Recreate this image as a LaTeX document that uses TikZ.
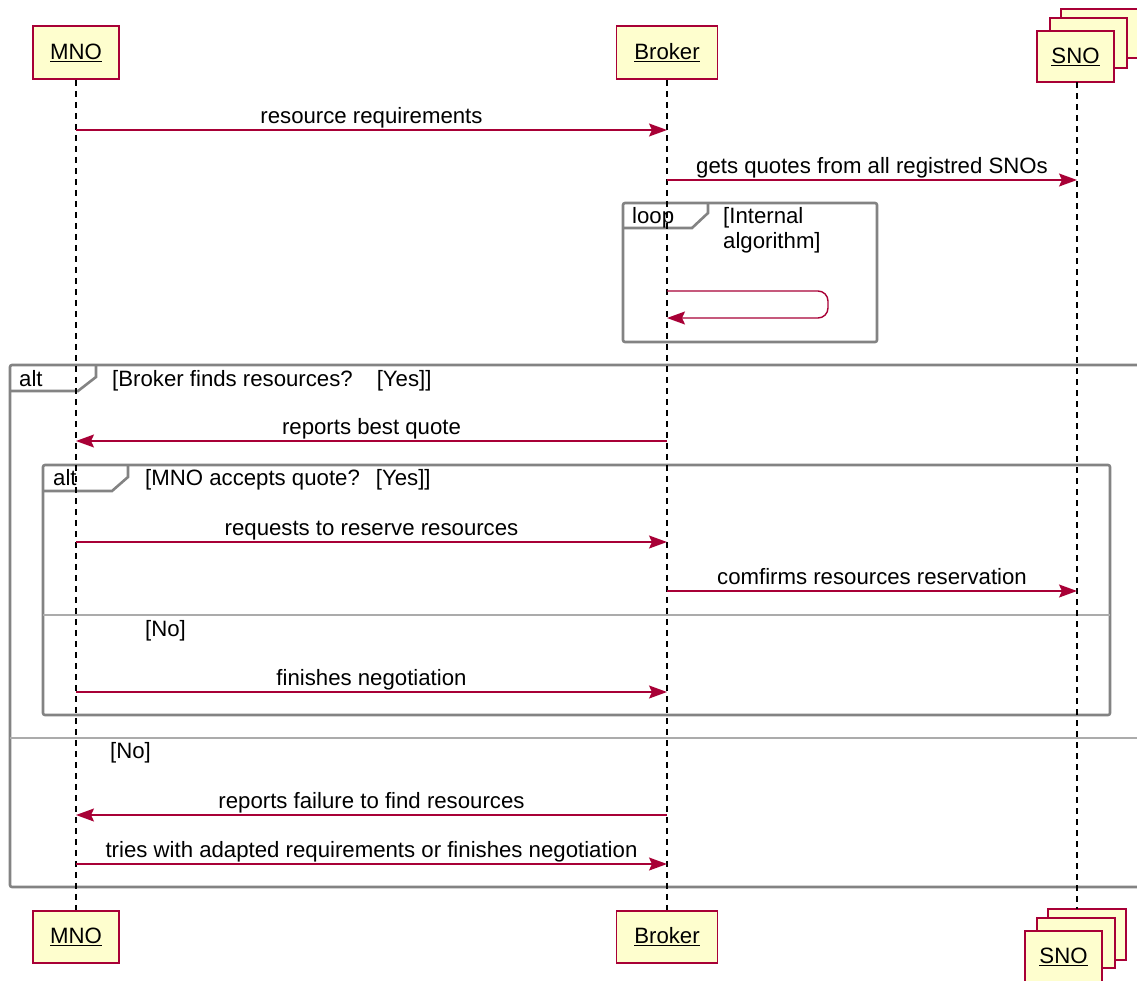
\documentclass[tikz,border=0pt]{standalone}
\usepackage{fontspec}
\setmainfont{Liberation Sans}
\usetikzlibrary{arrows.meta}
\definecolor{pred}{HTML}{A80036}
\definecolor{pfill}{HTML}{FEFECE}
\definecolor{fgray}{HTML}{838383}
\definecolor{dgray}{HTML}{ABABAB}
\begin{document}
\begin{tikzpicture}[x=1pt,y=-1pt,
  font=\fontsize{22.2}{26}\selectfont,
  part/.style={draw=pred, fill=pfill, line width=1.5pt, inner sep=0pt},
  stackbox/.style={draw=pred, fill=pfill, line width=1.5pt},
  life/.style={black, line width=1.3pt, dash pattern=on 6pt off 5pt},
  msg/.style={draw=pred, line width=1.4pt, -{Stealth[length=18pt,width=13pt,inset=3pt]}},
  lbl/.style={anchor=base, inner sep=0pt, yshift=7pt, text=black},
  frm/.style={draw=fgray, line width=2.6pt, rounded corners=2pt},
  tabline/.style={draw=fgray, line width=2.6pt},
  divl/.style={draw=dgray, line width=1.5pt},
  ftxt/.style={anchor=base west, inner sep=0pt, text=black}]
\clip (0,0) rectangle (1137,980);
\fill[white] (0,0) rectangle (1137,980);

% frames
\draw[frm] (623,203) rectangle (877,342);
\draw[tabline] (623,228) -- (692,228) -- (708,213) -- (708,203);
\draw[frm] (10,365) rectangle (1160,887);
\draw[tabline] (10,391) -- (78,391) -- (96,377) -- (96,365);
\draw[frm] (43,465) rectangle (1110,715);
\draw[tabline] (43,491) -- (112,491) -- (128,477) -- (128,465);
\draw[divl] (43,615) -- (1110,615);
\draw[divl] (10,738) -- (1160,738);

\node[ftxt] (tloop) at (632,223) {loop};
\node[ftxt] (gloop1) at (723,223) {[Internal};
\node[ftxt] (gloop2) at (723,248) {algorithm]};
\node[ftxt] (talt1) at (19,386) {alt};
\node[ftxt] (galt1) at (112,386) {[Broker finds resources?\hspace{24pt}[Yes]]};
\node[ftxt] (talt2) at (53,485) {alt};
\node[ftxt] (galt2) at (145,485) {[MNO accepts quote?\hspace{16pt}[Yes]]};
\node[ftxt] (gno2) at (145,636) {[No]};
\node[ftxt] (gno1) at (110,758) {[No]};

% participants
\node[part, minimum width=86pt, minimum height=53pt] (mnoT) at (76,52.5) {\underline{MNO}};
\node[part, minimum width=101pt, minimum height=53pt] (brkT) at (667,52.5) {\underline{Broker}};
\draw[stackbox] (1061,9) rectangle (1140,58);
\draw[stackbox] (1050,18) rectangle (1127,68);
\node[part, minimum width=77pt, minimum height=51pt] (snoT) at (1075.5,56.5) {\underline{SNO}};

\node[part, minimum width=86pt, minimum height=52pt] (mnoB) at (76,937) {\underline{MNO}};
\node[part, minimum width=101pt, minimum height=52pt] (brkB) at (667,937) {\underline{Broker}};
\draw[stackbox] (1048,909) rectangle (1126,960);
\draw[stackbox] (1037,918) rectangle (1115,968);
\node[part, minimum width=77pt, minimum height=51pt] (snoB) at (1063.5,956.5) {\underline{SNO}};

\coordinate (snoTop) at (1077,82);
\coordinate (snoEnd) at (1077,909);

% lifelines
\draw[life] (mnoT.south) -- (mnoB.north);
\draw[life] (brkT.south) -- (brkB.north);
\draw[life] (snoTop) -- (snoEnd);

% messages
\draw[msg] (mnoT |- 0,130) -- node[lbl] (l1) {resource requirements} (brkT |- 0,130);
\draw[msg] (brkT |- 0,180) -- node[lbl] (l2) {gets quotes from all registred SNOs} (snoTop |- 0,180);
\draw[msg, rounded corners=10pt] (brkT |- 0,291) -- (828,291) -- (828,318) -- (brkT |- 0,318);
\draw[msg] (brkT |- 0,441) -- node[lbl] (l4) {reports best quote} (mnoT |- 0,441);
\draw[msg] (mnoT |- 0,542) -- node[lbl] (l5) {requests to reserve resources} (brkT |- 0,542);
\draw[msg] (brkT |- 0,591) -- node[lbl] (l6) {comfirms resources reservation} (snoTop |- 0,591);
\draw[msg] (mnoT |- 0,692) -- node[lbl] (l7) {finishes negotiation} (brkT |- 0,692);
\draw[msg] (brkT |- 0,815) -- node[lbl] (l8) {reports failure to find resources} (mnoT |- 0,815);
\draw[msg] (mnoT |- 0,864) -- node[lbl] (l9) {tries with adapted requirements or finishes negotiation} (brkT |- 0,864);
\end{tikzpicture}
\end{document}
